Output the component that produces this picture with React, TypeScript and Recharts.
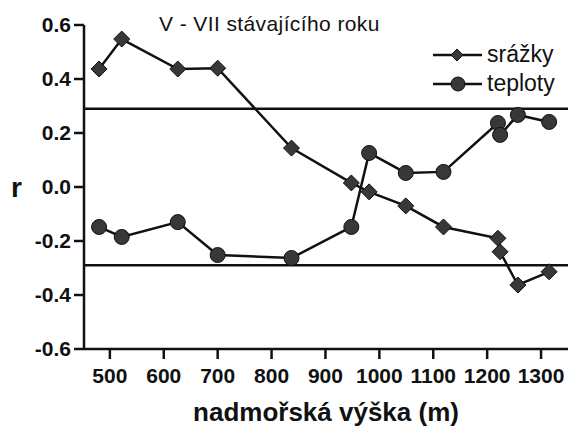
import React from 'react';
import { LineChart, Line, XAxis, YAxis, ReferenceLine } from 'recharts';

const elevations = [480, 522, 626, 700, 837, 948, 981, 1049, 1119, 1220, 1224, 1257, 1315];
const srazky = [0.437, 0.548, 0.437, 0.44, 0.144, 0.015, -0.018, -0.07, -0.148, -0.19, -0.24, -0.363, -0.314];
const teploty = [-0.148, -0.185, -0.13, -0.252, -0.263, -0.148, 0.126, 0.052, 0.056, 0.237, 0.193, 0.267, 0.241];
const xTicks = [500, 600, 700, 800, 900, 1000, 1100, 1200, 1300];
const yTicks = [-0.6, -0.4, -0.2, 0, 0.2, 0.4, 0.6];
const critical = [0.29, -0.29];

const data = elevations.map((elev, i) => ({ elev, srazky: srazky[i], teploty: teploty[i] }));

const FONT = '"Liberation Sans", Arial, sans-serif';
const MARK = '#383838';

const Diamond = (props: any) => {
  const { cx, cy, key } = props;
  if (cx == null || cy == null) return null;
  const s = 8;
  return (
    <polygon
      key={key}
      points={`${cx},${cy - s} ${cx + s},${cy} ${cx},${cy + s} ${cx - s},${cy}`}
      fill={MARK}
      stroke="#111"
      strokeWidth={1}
    />
  );
};

const Dot = (props: any) => {
  const { cx, cy, key } = props;
  if (cx == null || cy == null) return null;
  return <circle key={key} cx={cx} cy={cy} r={7.5} fill={MARK} stroke="#111" strokeWidth={1} />;
};

// legend drawn as an overlay so it doesn't shrink the plot area
const LegendBox = () => (
  <div
    style={{
      position: 'absolute',
      left: 432,
      top: 40,
      fontFamily: FONT,
      fontSize: 23,
      color: '#111',
    }}
  >
    {[
      { name: 'srážky', shape: 'diamond' },
      { name: 'teploty', shape: 'circle' },
    ].map((item) => (
      <div key={item.name} style={{ display: 'flex', alignItems: 'center', height: 29 }}>
        <svg width={52} height={20} style={{ marginRight: 3 }}>
          <line x1={1} y1={10} x2={50} y2={10} stroke="#111" strokeWidth={2.5} />
          {item.shape === 'diamond' ? (
            <polygon points="25,4 31,10 25,16 19,10" fill={MARK} stroke="#111" />
          ) : (
            <circle cx={26} cy={10} r={7} fill={MARK} stroke="#111" />
          )}
        </svg>
        <span>{item.name}</span>
      </div>
    ))}
  </div>
);

export default function App() {
  return (
    <div style={{ position: 'absolute', left: 0, top: 0, width: 568, height: 426, background: '#fff' }}>
      <LineChart width={568} height={426} data={data} margin={{ top: 25, right: 0, left: 0, bottom: 0 }}>
        <XAxis
          dataKey="elev"
          type="number"
          domain={[452, 1350]}
          ticks={xTicks}
          interval={0}
          allowDataOverflow
          height={77}
          axisLine={{ stroke: '#111', strokeWidth: 2.5 }}
          tickLine={{ stroke: '#111', strokeWidth: 2.5 }}
          tickSize={10}
          tickMargin={9}
          tick={{ fill: '#111', fontSize: 21, fontWeight: 'bold', fontFamily: FONT }}
          label={{
            value: 'nadmořská výška (m)',
            position: 'insideBottom',
            offset: 5,
            fill: '#111',
            fontSize: 26,
            fontWeight: 'bold',
            fontFamily: FONT,
          }}
        />
        <YAxis
          type="number"
          domain={[-0.6, 0.6]}
          ticks={yTicks}
          interval={0}
          width={84}
          axisLine={{ stroke: '#111', strokeWidth: 2.5 }}
          tickLine={{ stroke: '#111', strokeWidth: 2.5 }}
          tickSize={10}
          tickMargin={3}
          tickFormatter={(v: number) => v.toFixed(1)}
          tick={{ fill: '#111', fontSize: 21, fontWeight: 'bold', fontFamily: FONT }}
          label={{
            value: 'r',
            position: 'insideLeft',
            offset: 11,
            fill: '#111',
            fontSize: 28,
            fontWeight: 'bold',
            fontFamily: FONT,
          }}
        />
        {critical.map((c) => (
          <ReferenceLine key={c} y={c} stroke="#111" strokeWidth={2.5} />
        ))}
        <Line
          dataKey="srazky"
          name="srážky"
          stroke="#111"
          strokeWidth={2.5}
          dot={<Diamond />}
          isAnimationActive={false}
        />
        <Line
          dataKey="teploty"
          name="teploty"
          stroke="#111"
          strokeWidth={2.5}
          dot={<Dot />}
          isAnimationActive={false}
        />
      </LineChart>
      <div
        style={{
          position: 'absolute',
          left: 159,
          top: 12,
          fontFamily: FONT,
          fontSize: 21,
          letterSpacing: 0.4,
          color: '#111',
          whiteSpace: 'nowrap',
        }}
      >
        V - VII stávajícího roku
      </div>
      <LegendBox />
    </div>
  );
}
